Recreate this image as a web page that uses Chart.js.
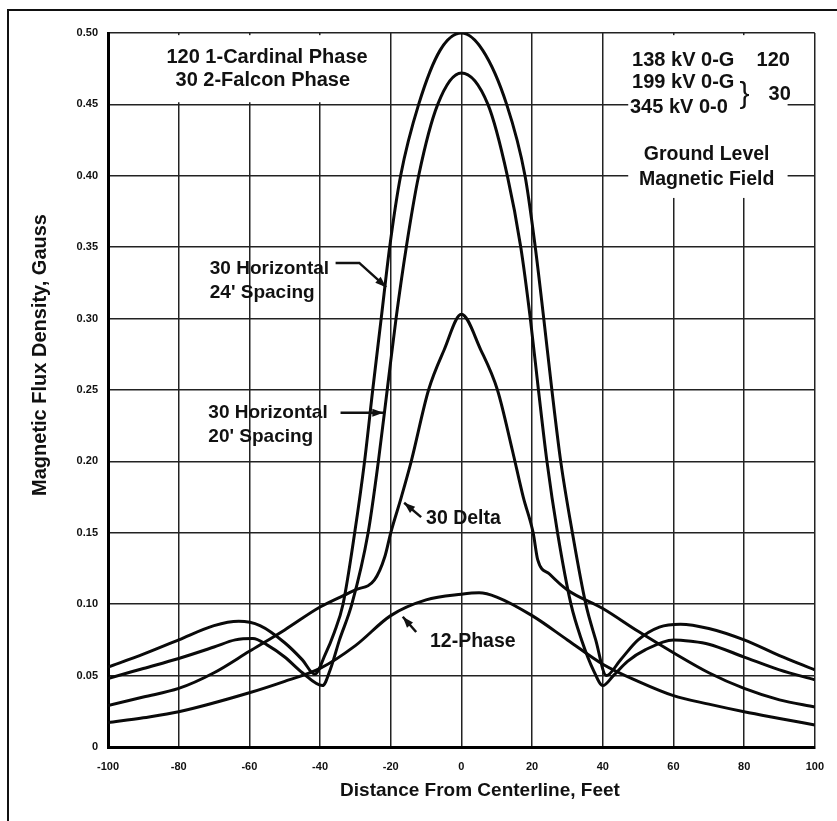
<!DOCTYPE html>
<html>
<head>
<meta charset="utf-8">
<script src="https://cdn.jsdelivr.net/npm/chart.js@4/dist/chart.umd.min.js"></script>
<style>
  html, body { margin: 0; padding: 0; background: #fff; }
  canvas { display: block; }
</style>
</head>
<body>
<canvas id="chart" width="837" height="821"></canvas>
<script>
const xTickValues = [-100, -80, -60, -40, -20, 0, 20, 40, 60, 80, 100]
const yTickValues = [0, 0.05, 0.10, 0.15, 0.20, 0.25, 0.30, 0.35, 0.40, 0.45, 0.50]
const yTickLabels = ['0', '0.05', '0.10', '0.15', '0.20', '0.25', '0.30', '0.35', '0.40', '0.45', '0.50']

// 3-phase horizontal, 24' spacing
const distH24 = [-100, -90, -80, -70, -63, -57, -50, -45, -41.5, -38.5, -36, -33.5, -30.2, -27.4, -25.1, -22.7, -20.3, -17.2, -12.1, -6, 0, 6, 12.8, 18, 20.9, 23.3, 25.6, 28.1, 31.4, 35.2, 38, 41, 45, 50, 56, 62, 70, 80, 90, 100]
const fluxH24 = [0.056, 0.065, 0.075, 0.085, 0.088, 0.085, 0.073, 0.061, 0.051, 0.065, 0.080, 0.100, 0.150, 0.200, 0.250, 0.300, 0.350, 0.400, 0.450, 0.488, 0.500, 0.488, 0.450, 0.400, 0.350, 0.300, 0.250, 0.200, 0.150, 0.100, 0.075, 0.050, 0.061, 0.075, 0.084, 0.086, 0.083, 0.075, 0.064, 0.054]

// 3-phase horizontal, 20' spacing
const distH20 = [-100, -90, -80, -70, -64, -59, -55, -50, -45, -39.3, -37, -34.5, -31, -26.4, -23.5, -21, -18.5, -15.6, -12.1, -6.7, 0, 7.5, 13, 16.8, 19.5, 21.8, 24.2, 27.2, 31, 34, 37.5, 40, 43, 47, 52, 60, 65, 70, 80, 90, 100]
const fluxH20 = [0.048, 0.055, 0.062, 0.070, 0.075, 0.076, 0.0715, 0.063, 0.052, 0.043, 0.055, 0.075, 0.100, 0.150, 0.200, 0.250, 0.300, 0.350, 0.400, 0.450, 0.472, 0.450, 0.400, 0.350, 0.300, 0.250, 0.200, 0.150, 0.100, 0.075, 0.053, 0.043, 0.050, 0.060, 0.068, 0.075, 0.074, 0.072, 0.063, 0.054, 0.047]

// 3-phase delta
const distDelta = [-100, -90, -80, -70, -60, -50, -40, -30, -24.6, -21.7, -20, -17, -14.2, -9.3, -4.9, 0, 5.5, 10.2, 14.4, 17.5, 20.3, 21.6, 25, 30, 40, 50, 60, 70, 80, 90, 100]
const fluxDelta = [0.029, 0.035, 0.041, 0.052, 0.067, 0.082, 0.098, 0.110, 0.117, 0.133, 0.150, 0.175, 0.200, 0.250, 0.278, 0.303, 0.278, 0.250, 0.208, 0.175, 0.150, 0.131, 0.121, 0.110, 0.097, 0.081, 0.066, 0.052, 0.041, 0.033, 0.028]

// 12-phase
const dist12 = [-100, -90, -80, -60, -50, -40, -30, -20, -10, 0, 5, 10, 20, 30, 40, 50, 60, 70, 80, 90, 100]
const flux12 = [0.017, 0.0205, 0.0247, 0.038, 0.046, 0.055, 0.071, 0.092, 0.103, 0.107, 0.108, 0.105, 0.092, 0.075, 0.058, 0.046, 0.036, 0.030, 0.0247, 0.020, 0.0154]

const seriesNames = ["30 Horizontal 24' Spacing", "30 Horizontal 20' Spacing", '30 Delta', '12-Phase']

const FONT = '"Liberation Sans", Arial, Helvetica, sans-serif'

// text notes, placed in data units (feet, gauss)
const notes = [
    { text: '120 1-Cardinal Phase', x: -55, y: 0.483, align: 'center', size: 20 },
    { text: '30 2-Falcon Phase', x: -56.2, y: 0.467, align: 'center', size: 20 },
    { text: '30 Horizontal', x: -71.2, y: 0.335, align: 'left', size: 19 },
    { text: "24' Spacing", x: -71.2, y: 0.318, align: 'left', size: 19 },
    { text: '30 Horizontal', x: -71.6, y: 0.234, align: 'left', size: 19 },
    { text: "20' Spacing", x: -71.6, y: 0.217, align: 'left', size: 19 },
    { text: '30 Delta', x: -10, y: 0.160, align: 'left', size: 19.5 },
    { text: '12-Phase', x: -8.9, y: 0.0735, align: 'left', size: 19.5 },
    { text: '138 kV 0-G', x: 48.3, y: 0.481, align: 'left', size: 20 },
    { text: '120', x: 83.5, y: 0.481, align: 'left', size: 20 },
    { text: '199 kV 0-G', x: 48.3, y: 0.465, align: 'left', size: 20 },
    { text: '345 kV 0-0', x: 47.7, y: 0.4475, align: 'left', size: 20 },
    { text: '30', x: 86.9, y: 0.4566, align: 'left', size: 20 },
    { text: 'Ground Level', x: 69.4, y: 0.4146, align: 'center', size: 19.5 },
    { text: 'Magnetic Field', x: 69.4, y: 0.397, align: 'center', size: 19.5 }
]

// leader arrows, last point is the tip
const arrows = [
    [[-35.6, 0.339], [-28.9, 0.339], [-21.3, 0.322]],
    [[-34.2, 0.234], [-22.1, 0.234]],
    [[-11.4, 0.161], [-16.2, 0.171]],
    [[-12.8, 0.0805], [-16.6, 0.0912]]
]

// areas where the grid is hidden behind the labels [x0, x1, y0, y1]
const blanks = [
    [-99.4, -21.2, 0.4515, 0.4985],
    [47.2, 92.3, 0.3845, 0.4985]
]

function makeLine(dist, flux, label) {
    return {
        label: label,
        data: dist.map((d, i) => ({ x: d, y: flux[i] })),
        borderColor: '#0a0a0a',
        borderWidth: 3,
        pointRadius: 0,
        fill: false,
        cubicInterpolationMode: 'monotone'
    }
}

const decorations = {
    id: 'decorations',
    beforeDatasetsDraw(chart) {
        const { ctx, scales: { x, y } } = chart
        ctx.save()
        ctx.fillStyle = '#fff'
        blanks.forEach(b => {
            const l = x.getPixelForValue(b[0])
            const r = x.getPixelForValue(b[1])
            const t = y.getPixelForValue(b[3])
            const btm = y.getPixelForValue(b[2])
            ctx.fillRect(l, t, r - l, btm - t)
        })
        ctx.restore()
    },
    afterDatasetsDraw(chart) {
        const { ctx, scales: { x, y } } = chart
        ctx.save()
        ctx.fillStyle = '#111'
        ctx.textBaseline = 'middle'
        notes.forEach(n => {
            ctx.font = 'bold ' + n.size + 'px ' + FONT
            ctx.textAlign = n.align
            ctx.fillText(n.text, x.getPixelForValue(n.x), y.getPixelForValue(n.y))
        })
        // brace for the 30 group
        ctx.font = '30px ' + FONT
        ctx.textAlign = 'center'
        ctx.fillText('}', x.getPixelForValue(80.1), y.getPixelForValue(0.4566))

        ctx.strokeStyle = '#111'
        ctx.lineWidth = 2.5
        arrows.forEach(a => {
            const pts = a.map(p => [x.getPixelForValue(p[0]), y.getPixelForValue(p[1])])
            ctx.beginPath()
            ctx.moveTo(pts[0][0], pts[0][1])
            for (let i = 1; i < pts.length; i++) ctx.lineTo(pts[i][0], pts[i][1])
            ctx.stroke()
            const tip = pts[pts.length - 1]
            const prev = pts[pts.length - 2]
            const ang = Math.atan2(tip[1] - prev[1], tip[0] - prev[0])
            ctx.beginPath()
            ctx.moveTo(tip[0], tip[1])
            ctx.lineTo(tip[0] - 11 * Math.cos(ang) + 4 * Math.sin(ang), tip[1] - 11 * Math.sin(ang) - 4 * Math.cos(ang))
            ctx.lineTo(tip[0] - 11 * Math.cos(ang) - 4 * Math.sin(ang), tip[1] - 11 * Math.sin(ang) + 4 * Math.cos(ang))
            ctx.closePath()
            ctx.fill()
        })
        ctx.restore()
    },
    afterDraw(chart) {
        const ctx = chart.ctx
        ctx.save()
        // outer frame
        ctx.strokeStyle = '#111'
        ctx.lineWidth = 2
        ctx.beginPath()
        ctx.moveTo(837, 10)
        ctx.lineTo(8, 10)
        ctx.lineTo(8, 821)
        ctx.stroke()
        // axis titles
        ctx.fillStyle = '#111'
        ctx.font = 'bold 19px ' + FONT
        ctx.textAlign = 'center'
        ctx.textBaseline = 'middle'
        ctx.fillText('Distance From Centerline, Feet', 480, 791)
        ctx.font = 'bold 20px ' + FONT
        ctx.translate(40, 355)
        ctx.rotate(-Math.PI / 2)
        ctx.fillText('Magnetic Flux Density, Gauss', 0, 0)
        ctx.restore()
    }
}

const chart = new Chart(document.getElementById('chart'), {
    type: 'line',
    data: {
        datasets: [
            makeLine(distH24, fluxH24, seriesNames[0]),
            makeLine(distH20, fluxH20, seriesNames[1]),
            makeLine(distDelta, fluxDelta, seriesNames[2]),
            makeLine(dist12, flux12, seriesNames[3])
        ]
    },
    plugins: [decorations],
    options: {
        responsive: false,
        animation: false,
        events: [],
        layout: {
            padding: { left: 0, top: 33, right: 16, bottom: 0 }
        },
        plugins: {
            legend: { display: false },
            tooltip: { enabled: false }
        },
        scales: {
            x: {
                type: 'linear',
                min: -100,
                max: 100,
                afterBuildTicks: s => { s.ticks = xTickValues.map(v => ({ value: v })) },
                afterFit: s => { s.height = 74 },
                grid: { color: '#222', lineWidth: 1.5, drawTicks: false },
                border: { color: '#000', width: 3 },
                ticks: {
                    color: '#111',
                    padding: 13,
                    maxRotation: 0,
                    font: { family: FONT, size: 11, weight: 'bold' }
                }
            },
            y: {
                type: 'linear',
                min: 0,
                max: 0.5,
                afterBuildTicks: s => { s.ticks = yTickValues.map(v => ({ value: v })) },
                afterFit: s => { s.width = 108 },
                grid: { color: '#222', lineWidth: 1.5, drawTicks: false },
                border: { color: '#000', width: 3 },
                ticks: {
                    color: '#111',
                    padding: 10,
                    font: { family: FONT, size: 11, weight: 'bold' },
                    callback: (v, i) => yTickLabels[i]
                }
            }
        }
    }
})
</script>
</body>
</html>
